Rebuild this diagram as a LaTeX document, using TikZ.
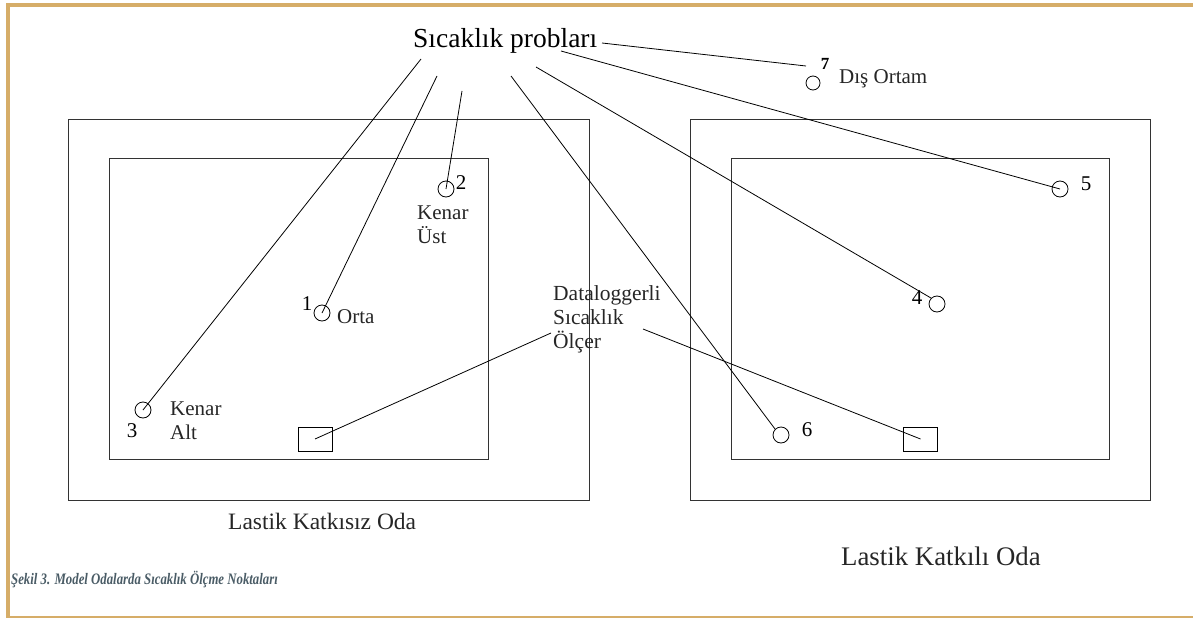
\documentclass[tikz,border=0pt]{standalone}
\usepackage{fontspec}
\setmainfont{Liberation Serif}
\newfontfamily\capfont[FakeStretch=0.8]{Liberation Serif}
\definecolor{gold}{RGB}{214,173,104}
\definecolor{capcol}{RGB}{74,92,102}
\begin{document}
\begin{tikzpicture}[x=1pt,y=-1pt,
  probe/.style={circle,draw,inner sep=0pt,minimum size=16pt,line width=0.8pt},
  logger/.style={draw,inner sep=0pt,minimum width=34pt,minimum height=24pt,line width=0.8pt},
  room/.style={draw,line width=1pt,black!80},
  wire/.style={line width=0.8pt},
  lbl/.style={inner sep=0pt,font=\fontsize{21}{23.5}\selectfont,text=black!85},
  num/.style={inner sep=0pt,font=\fontsize{21}{24}\selectfont,anchor=base},
  title/.style={inner sep=0pt,anchor=base west}]
\useasboundingbox (0,0) rectangle (1193,618);
% frame
\draw[gold,line width=4pt] (8,3) -- (8,618);
\draw[gold,line width=4pt] (6,5) -- (1193,5);
\draw[gold,line width=1.5pt] (6,617) -- (1193,617);
% rooms
\draw[room] (68,119) rectangle (589,500);
\draw[room] (109,158) rectangle (488,459);
\draw[room] (690,119) rectangle (1150,500);
\draw[room] (731,158) rectangle (1109,459);
% probes
\node[probe] (c1) at (322,313) {};
\node[probe] (c2) at (446,189) {};
\node[probe] (c3) at (143,410) {};
\node[probe] (c4) at (937,304) {};
\node[probe] (c5) at (1060,189) {};
\node[probe] (c6) at (781,435) {};
\node[probe,minimum size=14pt] (c7) at (813,83) {};
% loggers
\node[logger] (d1) at (315,439) {};
\node[logger] (d2) at (920.5,439) {};
% title text
\node[title,font=\fontsize{27.5}{30}\selectfont] (pt) at (413,48) {Sıcaklık probları};
\coordinate (p3) at (421,59);
\coordinate (p1) at (437,76);
\coordinate (p2) at (462,91);
\coordinate (p6) at (511,76);
\coordinate (p4) at (536,67);
\coordinate (p5) at (561,51);
\coordinate (p7) at (602,43);
\coordinate (e7) at (806,66);
\draw[wire] (p3) -- (c3.center);
\draw[wire] (p1) -- (c1.center);
\draw[wire] (p2) -- (c2.center);
\draw[wire] (p6) -- (c6.north west);
\draw[wire] (p4) -- (c4.north west);
\draw[wire] (p5) -- (c5.center);
\draw[wire] (p7) -- (e7);
% numbers
\node[num] (n1) at (307,310) {1};
\node[num] (n2) at (461,189) {2};
\node[num] (n3) at (132,437) {3};
\node[num] (n4) at (917,304) {4};
\node[num] (n5) at (1086,190) {5};
\node[num] (n6) at (807,436) {6};
\node[num,font=\bfseries\fontsize{17}{20}\selectfont] (n7) at (825,70) {7};
% labels
\node[lbl,anchor=base west] (lo) at (337,323) {Orta};
\node[lbl,anchor=base west,align=left] (lku) at (417,243) {Kenar\\Üst};
\node[lbl,anchor=base west,align=left] (lka) at (170,439) {Kenar\\Alt};
\node[lbl,anchor=base west] (ldo) at (839,83) {Dış Ortam};
\node[lbl,anchor=base west,align=left,font=\fontsize{21.5}{24}\selectfont] (ldl) at (553,348) {Dataloggerli\\Sıcaklık\\Ölçer};
\coordinate (dA) at (551,333);
\coordinate (dB) at (643,329);
\draw[wire] (dA) -- (d1.center);
\draw[wire] (dB) -- (d2.center);
% room titles
\node[title,font=\fontsize{23.5}{26}\selectfont,text=black!85] (r1) at (228,529) {Lastik Katkısız Oda};
\node[title,font=\fontsize{26.8}{30}\selectfont,text=black!85] (r2) at (841,565) {Lastik Katkılı Oda};
% caption
\node[title,font=\capfont\bfseries\itshape\fontsize{16}{19}\selectfont,text=capcol] (cap) at (11,584) {Şekil 3. Model Odalarda Sıcaklık Ölçme Noktaları};
\end{tikzpicture}
\end{document}
